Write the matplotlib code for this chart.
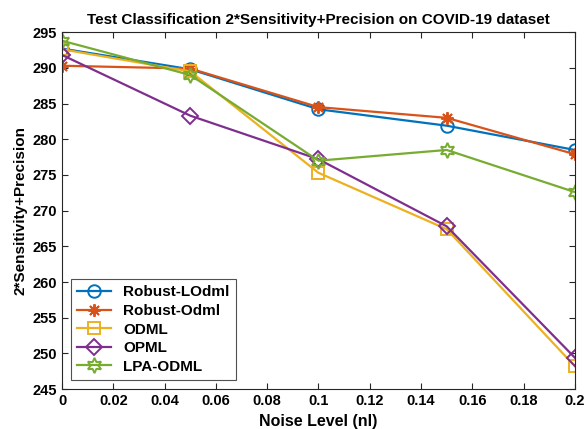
import matplotlib
matplotlib.use("Agg")
import matplotlib.pyplot as plt

plt.rcParams["font.family"] = ["Liberation Sans", "DejaVu Sans"]
plt.rcParams["font.weight"] = "bold"

noise = [0, 0.05, 0.1, 0.15, 0.2]
robust_lodml = [292.7, 289.8, 284.2, 281.9, 278.5]
robust_odml = [290.3, 289.9, 284.5, 283.0, 277.9]
odml = [292.6, 289.5, 275.3, 267.4, 248.2]
opml = [291.8, 283.3, 277.2, 267.8, 249.4]
lpa_odml = [293.8, 289.0, 277.0, 278.5, 272.6]

fig = plt.figure(figsize=(5.86, 4.29), dpi=100)
ax = fig.add_axes([0.106, 0.093, 0.875, 0.832])

ms = 9
ax.plot(noise, robust_lodml, color="#0072BD", marker="o", ms=ms, mfc="none", lw=1.6, mew=1.4, label="Robust-LOdml")
ax.plot(noise, robust_odml, color="#D95319", marker=(8, 2, 0), ms=ms, lw=1.6, mew=1.4, label="Robust-Odml")
ax.plot(noise, odml, color="#EDB120", marker="s", ms=ms, mfc="none", lw=1.6, mew=1.4, label="ODML")
ax.plot(noise, opml, color="#7E2F8E", marker="D", ms=ms - 1, mfc="none", lw=1.6, mew=1.4, label="OPML")
ax.plot(noise, lpa_odml, color="#77AC30", marker=(6, 1, 0), ms=ms + 2, mfc="none", lw=1.6, mew=1.4, label="LPA-ODML")

ax.set_xlim(0, 0.2)
ax.set_ylim(245, 295)
ax.set_xticks([0, 0.02, 0.04, 0.06, 0.08, 0.1, 0.12, 0.14, 0.16, 0.18, 0.2])
ax.set_xticklabels(["0", "0.02", "0.04", "0.06", "0.08", "0.1", "0.12", "0.14", "0.16", "0.18", "0.2"])
ax.set_yticks(range(245, 296, 5))
ax.tick_params(direction="in", top=True, right=True, labelsize=10.5, length=4, color="#262626")
for s in ax.spines.values():
    s.set_color("#262626")

ax.set_title("Test Classification 2*Sensitivity+Precision on COVID-19 dataset", fontsize=11, fontweight="bold")
ax.set_xlabel("Noise Level (nl)", fontsize=11.5, fontweight="bold")
ax.set_ylabel("2*Sensitivity+Precision", fontsize=11, fontweight="bold")

leg = ax.legend(loc="lower left", fontsize=11, fancybox=False, edgecolor="#262626",
                borderaxespad=0.6, handlelength=2.2, labelspacing=0.3)
leg.get_frame().set_linewidth(0.8)

fig.savefig("out.png", dpi=100)
